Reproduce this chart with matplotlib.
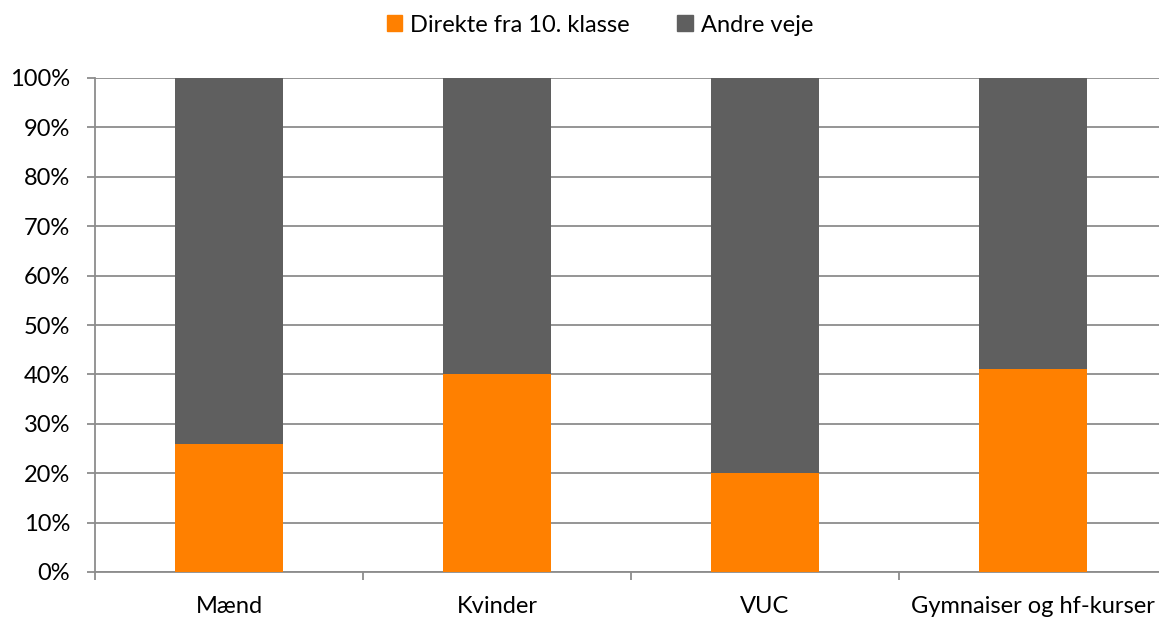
import matplotlib
matplotlib.use("Agg")
import matplotlib.pyplot as plt
from matplotlib.patches import Patch
from matplotlib.ticker import MultipleLocator, FuncFormatter

categories = ["Mænd", "Kvinder", "VUC", "Gymnaiser og hf-kurser"]
direkte = [26, 40, 20, 41]
andre = [100 - v for v in direkte]
series_names = ["Direkte fra 10. klasse", "Andre veje"]
colors = ["#FF8000", "#5F5F5F"]

plt.rcParams['font.family'] = ['Lato', 'DejaVu Sans']

W, H = 1159, 619
fig = plt.figure(figsize=(W / 100, H / 100), dpi=100)
left, right, top, bottom = 95, 1167, 78, 572
ax = fig.add_axes([left / W, 1 - bottom / H, (right - left) / W, (bottom - top) / H])

x = list(range(len(categories)))
ax.bar(x, direkte, width=0.4, color=colors[0], zorder=3)
ax.bar(x, andre, width=0.4, bottom=direkte, color=colors[1], zorder=3)

ax.set_xlim(-0.5, len(categories) - 0.5)
ax.set_ylim(0, 100)
ax.yaxis.set_major_locator(MultipleLocator(10))
ax.yaxis.set_major_formatter(FuncFormatter(lambda v, p: f"{int(v)}%"))
ax.grid(axis='y', color='#8C8C8C', linewidth=1.3, zorder=0)

ax.set_xticks(x)
ax.set_xticklabels(categories)
ax.set_xticks([i - 0.5 for i in range(len(categories) + 1)], minor=True)
ax.tick_params(axis='x', which='major', length=0, pad=17, labelsize=17, colors='black')
ax.tick_params(axis='x', which='minor', length=6, width=1.3, color='#8C8C8C')
ax.tick_params(axis='y', length=6, width=1.3, color='#8C8C8C', labelsize=17,
               labelcolor='black', pad=12)

for s in ['top', 'right']:
    ax.spines[s].set_visible(False)
for s in ['left', 'bottom']:
    ax.spines[s].set_color('#8C8C8C')
    ax.spines[s].set_linewidth(1.3)

handles = [Patch(color=c, label=n) for c, n in zip(colors, series_names)]
fig.legend(handles=handles, loc='center', bbox_to_anchor=(600 / W, 1 - 25 / H), ncol=2,
           frameon=False, fontsize=17, handlelength=0.65, handleheight=0.65,
           handletextpad=0.35, columnspacing=2.0)

fig.savefig("out.png", dpi=100)
